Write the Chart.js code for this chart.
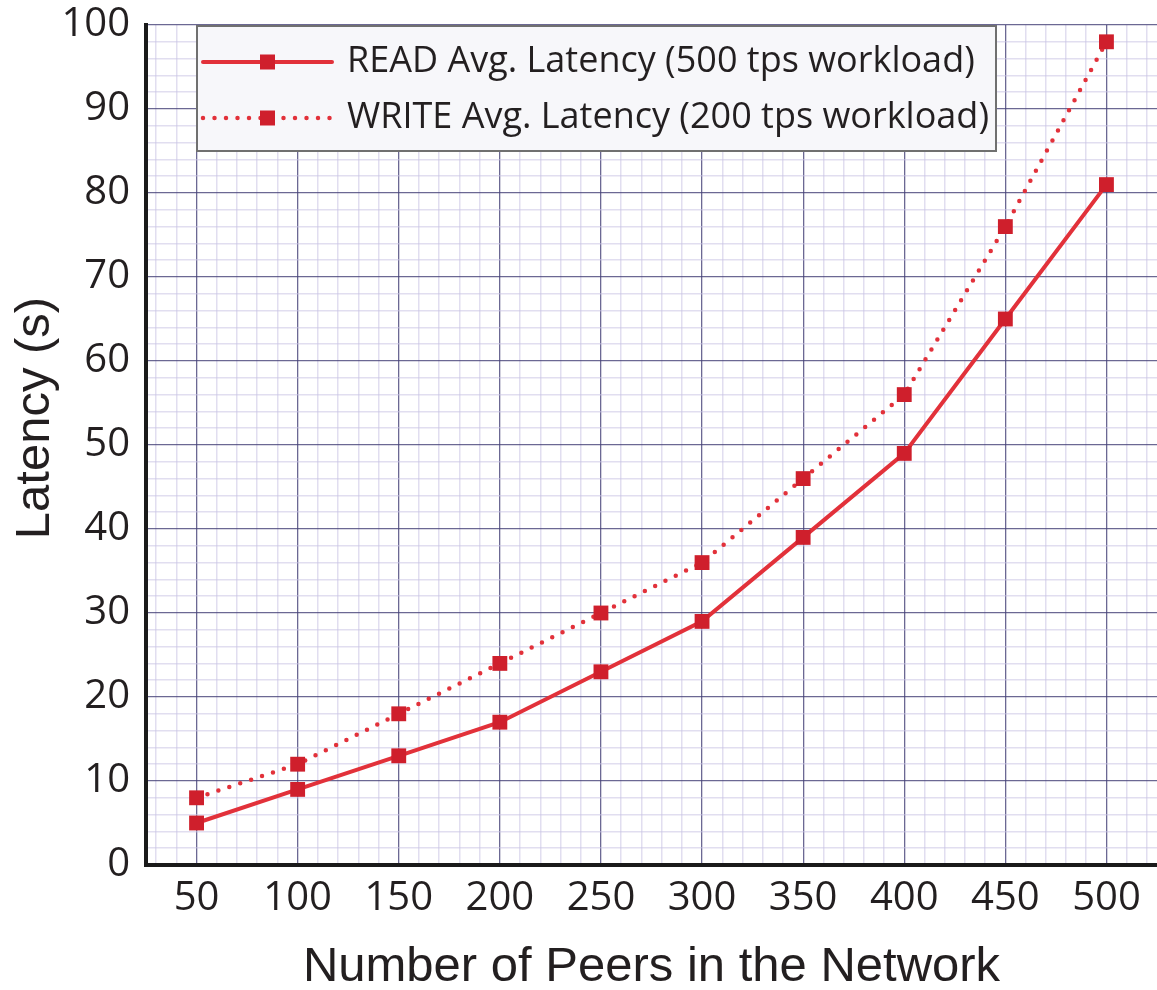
<!DOCTYPE html>
<html>
<head>
<meta charset="utf-8">
<script src="https://cdn.jsdelivr.net/npm/chart.js@4.4.0/dist/chart.umd.min.js"></script>
<style>
  body { margin: 0; background: #ffffff; }
  #wrap { width: 1157px; height: 990px; }
</style>
</head>
<body>
<div id="wrap"><canvas id="chart" width="1157" height="990"></canvas></div>
<script>
// Data
const peers = [50, 100, 150, 200, 250, 300, 350, 400, 450, 500];
const readLatency = [5, 9, 13, 17, 23, 29, 39, 49, 65, 81];
const writeLatency = [8, 12, 18, 24, 30, 36, 46, 56, 76, 98];
const seriesLabels = [
  'READ Avg. Latency (500 tps workload)',
  'WRITE Avg. Latency (200 tps workload)'
];
const xTitle = 'Number of Peers in the Network';
const yTitle = 'Latency (s)';

const colors = {
  line: '#e2313a',
  marker: '#cf1f2c',
  text: '#231f20',
  major: 'rgba(70, 66, 120, 0.8)',
  minor: 'rgba(200, 194, 228, 0.55)'
};

const tickFont = { family: 'Open Sans', size: 40, lineHeight: 0.6 };
const titleFont = { family: 'Liberation Sans', size: 49, lineHeight: 0.9 };

const toPoints = (values) => values.map((v, i) => ({ x: peers[i], y: v }));

// minor ticks every 10 on x, every 2 on y (labels only on the majors)
const minorTicks = (step) => (scale) => {
  const ticks = [];
  for (let v = Math.ceil(scale.min / step) * step; v <= scale.max; v += step) {
    ticks.push({ value: v });
  }
  scale.ticks = ticks;
};

/**
 * Legend drawn inside the plot area, top left, plus the y title
 * (which sits a bit above the axis centre in the original)
 */
const insideLegend = {
  id: 'insideLegend',
  afterDraw(chart) {
    const { ctx, chartArea } = chart;
    const box = { x: chartArea.left + 51, y: chartArea.top + 1, w: 799, h: 125 };
    ctx.save();
    ctx.fillStyle = '#f7f7fa';
    ctx.fillRect(box.x, box.y, box.w, box.h);
    ctx.strokeStyle = '#707070';
    ctx.lineWidth = 2;
    ctx.strokeRect(box.x, box.y, box.w, box.h);

    chart.data.datasets.forEach((ds, i) => {
      const y = box.y + 36 + i * 56;
      const x0 = box.x + 6, x1 = box.x + 135;
      ctx.strokeStyle = ds.borderColor;
      ctx.lineWidth = ds.borderWidth;
      ctx.lineCap = 'round';
      ctx.setLineDash(ds.borderDash || []);
      ctx.beginPath();
      ctx.moveTo(x0, y);
      ctx.lineTo(x1, y);
      ctx.stroke();
      ctx.setLineDash([]);
      const s = 15;
      ctx.fillStyle = ds.pointBackgroundColor;
      ctx.fillRect((x0 + x1) / 2 - s / 2, y - s / 2, s, s);
      ctx.fillStyle = colors.text;
      ctx.font = '36px "Open Sans"';
      ctx.textBaseline = 'middle';
      ctx.textAlign = 'left';
      ctx.fillText(ds.label, box.x + 150, y);
    });

    // y axis title
    ctx.translate(49, chartArea.top + 393);
    ctx.rotate(-Math.PI / 2);
    ctx.font = titleFont.size + 'px "' + titleFont.family + '"';
    ctx.fillStyle = colors.text;
    ctx.textAlign = 'center';
    ctx.textBaseline = 'alphabetic';
    ctx.fillText(yTitle, 0, 0);
    ctx.restore();
  }
};

new Chart(document.getElementById('chart'), {
  type: 'line',
  data: {
    datasets: [
      {
        label: seriesLabels[0],
        data: toPoints(readLatency),
        borderColor: colors.line,
        borderWidth: 4,
        pointStyle: 'rect',
        pointRadius: 10.5,
        pointBackgroundColor: colors.marker,
        pointBorderWidth: 0,
        tension: 0
      },
      {
        label: seriesLabels[1],
        data: toPoints(writeLatency),
        borderColor: colors.line,
        borderWidth: 4.5,
        borderDash: [0, 11.5],
        borderCapStyle: 'round',
        pointStyle: 'rect',
        pointRadius: 10.5,
        pointBackgroundColor: colors.marker,
        pointBorderWidth: 0,
        tension: 0
      }
    ]
  },
  options: {
    responsive: false,
    animation: false,
    layout: { autoPadding: false, padding: { top: 25, right: 0, left: 0, bottom: 0 } },
    plugins: {
      legend: { display: false },
      tooltip: { enabled: false }
    },
    scales: {
      x: {
        type: 'linear',
        min: 25,
        max: 525,
        afterBuildTicks: minorTicks(10),
        afterFit: (scale) => {
          scale.height = 125;
          scale.paddingLeft = 0;
          scale.paddingRight = 0;
        },
        ticks: {
          autoSkip: false,
          maxRotation: 0,
          padding: 22,
          color: colors.text,
          font: tickFont,
          callback: (v) => (v % 50 === 0 ? v : '')
        },
        grid: {
          drawTicks: false,
          lineWidth: (c) => (c.tick && c.tick.value % 50 === 0 ? 1.3 : 1.5),
          color: (c) => (c.tick && c.tick.value % 50 === 0 ? colors.major : colors.minor)
        },
        border: { display: true, color: '#1a1a1a', width: 4 },
        title: {
          display: true,
          text: xTitle,
          color: colors.text,
          font: titleFont,
          padding: { top: 0, bottom: 0 }
        }
      },
      y: {
        min: 0,
        max: 100,
        afterBuildTicks: minorTicks(2),
        afterFit: (scale) => {
          scale.width = 146;
          scale.paddingTop = 0;
          scale.paddingBottom = 0;
        },
        ticks: {
          autoSkip: false,
          padding: 16,
          color: colors.text,
          font: tickFont,
          callback: (v) => (v % 10 === 0 ? v : '')
        },
        grid: {
          drawTicks: false,
          lineWidth: (c) => (c.tick && c.tick.value % 10 === 0 ? 1.3 : 1.5),
          color: (c) => (c.tick && c.tick.value % 10 === 0 ? colors.major : colors.minor)
        },
        border: { display: true, color: '#1a1a1a', width: 4 },
        title: { display: false }
      }
    }
  },
  plugins: [insideLegend]
});
</script>
</body>
</html>
